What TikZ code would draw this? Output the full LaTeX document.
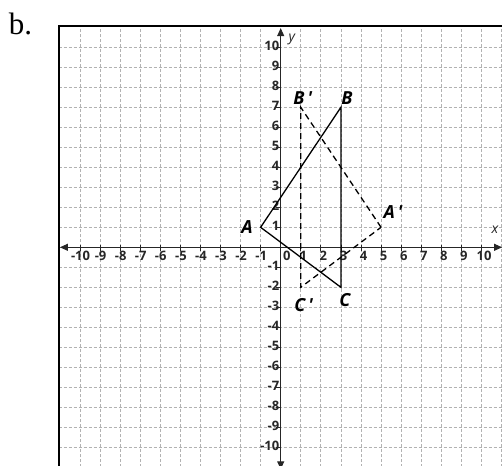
\documentclass[tikz,border=0pt]{standalone}
\usepackage{fontspec}
\setmainfont{Liberation Serif}
\newfontfamily\lblfont{Open Sans}[BoldFont={Open Sans Bold},BoldItalicFont={Open Sans Bold Italic}]
\usetikzlibrary{arrows.meta}
\begin{document}
\begin{tikzpicture}[x=20.07bp,y=20bp,
  gridline/.style={gray!60,line width=0.7bp,dash pattern=on 3bp off 2bp},
  frameline/.style={black,line width=2bp},
  axisline/.style={black!85,line width=1bp,{Triangle[length=8bp,width=7bp]}-{Triangle[length=8bp,width=7bp]}},
  tickline/.style={black!85,line width=0.8bp},
  ticklbl/.style={font=\lblfont\bfseries\fontsize{13bp}{13bp}\selectfont,inner sep=0pt,text=black!85},
  ptlbl/.style={font=\lblfont\bfseries\itshape\fontsize{18bp}{18bp}\selectfont,inner sep=0pt},
  axlbl/.style={font=\lblfont\itshape\fontsize{14bp}{14bp}\selectfont,inner sep=0pt,text=black!85},
  soltri/.style={black,line width=1.3bp,line join=miter},
  dashtri/.style={black,line width=1.3bp,dash pattern=on 6bp off 4bp}]
\useasboundingbox (-13.986,-10.885) rectangle (11.026,12.365);
\clip (-13.986,-10.885) rectangle (11.026,12.365);
% label
\node[anchor=base west,inner sep=0pt,font=\fontsize{31bp}{31bp}\selectfont] (lbl) at (-13.55,10.615) {b.};
% grid
\foreach \i in {-10,...,11} {
  \draw[gridline] (\i,-11.5) -- (\i,11.04);
}
\foreach \j in {-11,...,10} {
  \draw[gridline] (-11.07,\j) -- (12,\j);
}
% frame
\draw[frameline] (-11.07,-12) rectangle (12,11.04);
% axes
\coordinate (xl) at (-11.0,0);
\coordinate (xr) at (11.03,0);
\coordinate (yb) at (0,-11.1);
\coordinate (yt) at (0,10.96);
\draw[axisline] (xl) -- (xr);
\draw[axisline] (yb) -- (yt);
% ticks and labels
\foreach \i in {-10,...,-1,1,2,...,10} {
  \pgfmathtruncatemacro\absval{abs(\i)}
  \draw[tickline] (\i,0.1) -- (\i,-0.17);
  \node[ticklbl,anchor=north] (xt\i) at (\i+0.13,-0.17) {\ifnum\i<0 \llap{-}\fi\absval};
  \draw[tickline] (-0.22,\i) -- (0,\i);
  \node[ticklbl,anchor=east] (yt\i) at (-0.06,\i+0.06) {\i};
}
\node[ticklbl,anchor=north] (xt0) at (0.3,-0.17) {0};
\node[axlbl] (xname) at (10.68,0.87) {x};
\node[axlbl] (yname) at (0.55,10.4) {y};
% triangles
\coordinate (A) at (-1,1);
\coordinate (B) at (3,7);
\coordinate (C) at (3,-2);
\coordinate (A1) at (5,1);
\coordinate (B1) at (1,7);
\coordinate (C1) at (1,-2);
\draw[soltri] (A) -- (B) -- (C) -- cycle;
\draw[dashtri] (A1) -- (B1) -- (C1) -- cycle;
% point labels
\node[ptlbl] (lA) at (-1.68,1.0) {A};
\node[ptlbl] (lB) at (3.3,7.47) {B};
\node[ptlbl] (lB1) at (1.1,7.47) {B\,\char"27};
\node[ptlbl] (lA1) at (5.6,1.77) {A\,\char"27};
\node[ptlbl] (lC) at (3.2,-2.64) {C};
\node[ptlbl] (lC1) at (1.15,-2.89) {C\,\char"27};
\end{tikzpicture}
\end{document}
